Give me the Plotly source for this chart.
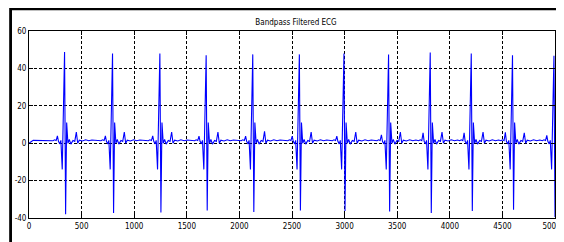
import plotly.graph_objects as go

# ---- data ----
# sample index of each R peak
r_pos = [338, 794, 1244, 1684, 2127, 2570, 2994, 3418, 3814, 4204, 4596, 4990]
# R peak height, S trough depth, P wave height, T wave height per beat
r_amp = [48.8, 48.0, 48.0, 47.0, 47.5, 47.5, 48.0, 47.4, 48.5, 48.0, 47.0, 46.7]
s_amp = [-38.0, -37.3, -37.0, -36.0, -36.8, -36.0, -36.3, -36.5, -37.3, -36.3, -35.6, -39.5]
p_amp = [3.9, 3.9, 3.9, 3.8, 3.8, 3.8, 3.8, 4.5, 5.5, 5.5, 5.8, 4.2]
t_amp = [5.9, 6.0, 6.0, 6.0, 6.3, 6.0, 6.0, 6.0, 6.0, 6.0, 5.5, 5.0]

# shape of one beat: offsets (samples from R) and values; "P","R","S","T" use per-beat values
beat_offsets = [-110, -95, -80, -68, -58, -45, -35, -22, 0, 10, 20, 32, 45, 60, 80, 97, 112, 125, 140, 170, 200, 230, 260]
beat_values  = [1.3, 1.8, 1.4, "P", 1.0, -0.4, 1.5, -14.0, "R", "S", 11.0, 0.0, 2.0, -0.5, 1.5, 1.0, "T", 0.0, 1.6, 1.2, 1.8, 1.3, 1.7]

start_x = [0, 40]
start_y = [0.0, 1.5]

x_ticks = list(range(0, 5001, 500))
x_tick_labels = [str(v) for v in x_ticks[:-1]] + ["5000\u00a0\u00a0\u00a0"]
y_ticks = [-40, -20, 0, 20, 40, 60]

# ---- build series ----
xs = list(start_x)
ys = list(start_y)
for i, r in enumerate(r_pos):
    lookup = {"P": p_amp[i], "R": r_amp[i], "S": s_amp[i], "T": t_amp[i]}
    for off, val in zip(beat_offsets, beat_values):
        xx = r + off
        if xx <= xs[-1] or xx > 5000:
            continue
        xs.append(xx)
        ys.append(lookup[val] if isinstance(val, str) else val)

fig = go.Figure()
fig.add_trace(go.Scatter(x=xs, y=ys, mode="lines",
                         line=dict(color="#0000ff", width=1.1),
                         hoverinfo="skip", showlegend=False))

narrow = "DejaVu Sans Condensed, Liberation Sans Narrow, Liberation Sans, Arial"
tickfont = dict(family=narrow, size=8, color="black")
axis_common = dict(showline=True, linecolor="black", linewidth=1, mirror="ticks",
                   ticks="inside", ticklen=4, tickcolor="black",
                   showgrid=True, gridcolor="black", gridwidth=1, griddash="3px,2px",
                   zeroline=False, tickfont=tickfont, ticklabeloverflow="allow",
                   automargin=False)

fig.update_xaxes(range=[0, 5000], tickvals=x_ticks, ticktext=x_tick_labels, **axis_common)
fig.update_yaxes(range=[-40, 60], tickvals=y_ticks, ticktext=[str(v) for v in y_ticks], **axis_common)

# outer figure frame (thick border on left and top)
fig.add_shape(type="rect", xref="paper", yref="paper",
              x0=-0.035, x1=1.3, y0=-0.6, y1=1.119,
              line=dict(color="black", width=2.8), layer="above")

# page body has an 8px margin, so the figure is sized to fill the rest of the window
fig.update_layout(
    width=556, height=234,
    margin=dict(l=21, r=9, t=23, b=24),
    paper_bgcolor="white", plot_bgcolor="white",
    title=dict(text="Bandpass Filtered ECG", x=0.518, xanchor="center",
               y=1 - 14 / 234, yanchor="middle", yref="container",
               font=dict(family=narrow, size=8, color="black")),
)

fig.write_html("out.html")
